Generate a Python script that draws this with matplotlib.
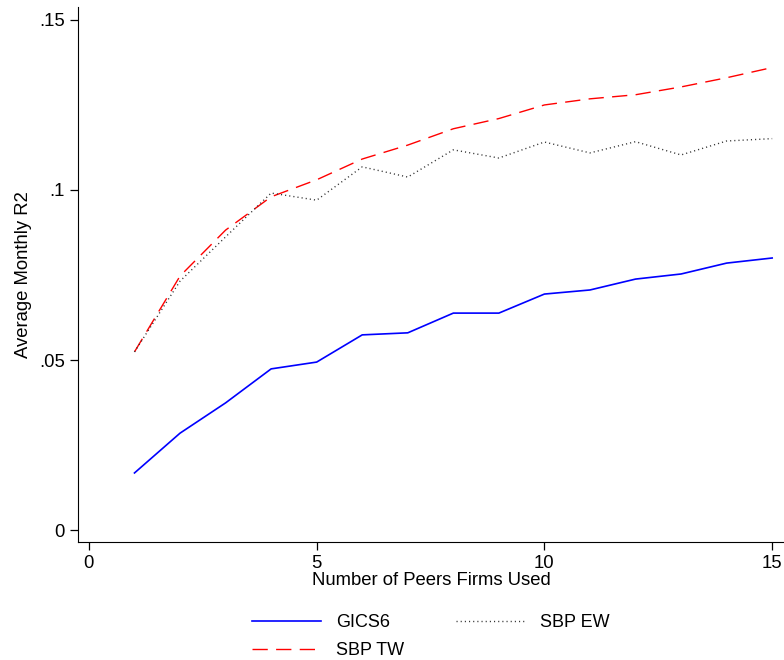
"""Average monthly R2 by number of peer firms used (GICS6 vs SBP)."""

import matplotlib

matplotlib.use("Agg")
import matplotlib.pyplot as plt
from matplotlib.ticker import FuncFormatter

plt.rcParams["font.family"] = ["Liberation Sans", "DejaVu Sans"]

n_peers = list(range(1, 16))
gics6 = [0.0168, 0.0285, 0.0374, 0.0474, 0.0494, 0.0574, 0.0580, 0.0638,
         0.0638, 0.0694, 0.0706, 0.0738, 0.0753, 0.0785, 0.0800]
sbp_tw = [0.0524, 0.0747, 0.0882, 0.0980, 0.1030, 0.1091, 0.1132, 0.1180,
          0.1210, 0.1250, 0.1268, 0.1280, 0.1303, 0.1330, 0.1360]
sbp_ew = [0.0524, 0.0732, 0.0862, 0.0991, 0.0970, 0.1068, 0.1038, 0.1118,
          0.1094, 0.1141, 0.1109, 0.1142, 0.1103, 0.1144, 0.1151]

x_ticks = [0, 5, 10, 15]
y_ticks = [0, 0.05, 0.10, 0.15]


def stata_fmt(value, _pos):
    # Stata style: drop leading zero and trailing zeros
    if value == 0:
        return "0"
    return f"{value:.2f}".rstrip("0").lstrip("0")


fig = plt.figure(figsize=(7.84, 6.6), dpi=100)
ax = fig.add_axes([78 / 784, 118 / 660, 1 - 78 / 784, (542 - 7) / 660])

l1, = ax.plot(n_peers, gics6, color="#0000ff", lw=1.2, label="GICS6")
l2, = ax.plot(n_peers, sbp_tw, color="#ff0000", lw=1.0, dashes=(11, 6), label="SBP TW")
l3, = ax.plot(n_peers, sbp_ew, color="#333333", lw=1.0, dashes=(0.8, 2.2), label="SBP EW")

ax.set_xlim(-0.24, 15.26)
ax.set_ylim(-0.0035, 0.1538)
ax.set_xticks(x_ticks)
ax.set_yticks(y_ticks)
ax.yaxis.set_major_formatter(FuncFormatter(stata_fmt))
ax.tick_params(axis="both", direction="out", length=6, width=0.9, labelsize=13.3)
ax.spines["top"].set_visible(False)
ax.spines["right"].set_visible(False)
ax.set_xlabel("Number of Peers Firms Used", fontsize=13.3, labelpad=0)
ax.set_ylabel("Average Monthly R2", fontsize=13.3, labelpad=5)

fig.legend(
    handles=[l1, l2, l3],
    loc="upper center",
    bbox_to_anchor=(431 / 784, 1 - 598 / 660),
    ncol=2,
    frameon=False,
    fontsize=13,
    handlelength=3.8,
    handletextpad=0.85,
    columnspacing=2.9,
    labelspacing=0.6,
)

fig.savefig("out.png", dpi=100)
